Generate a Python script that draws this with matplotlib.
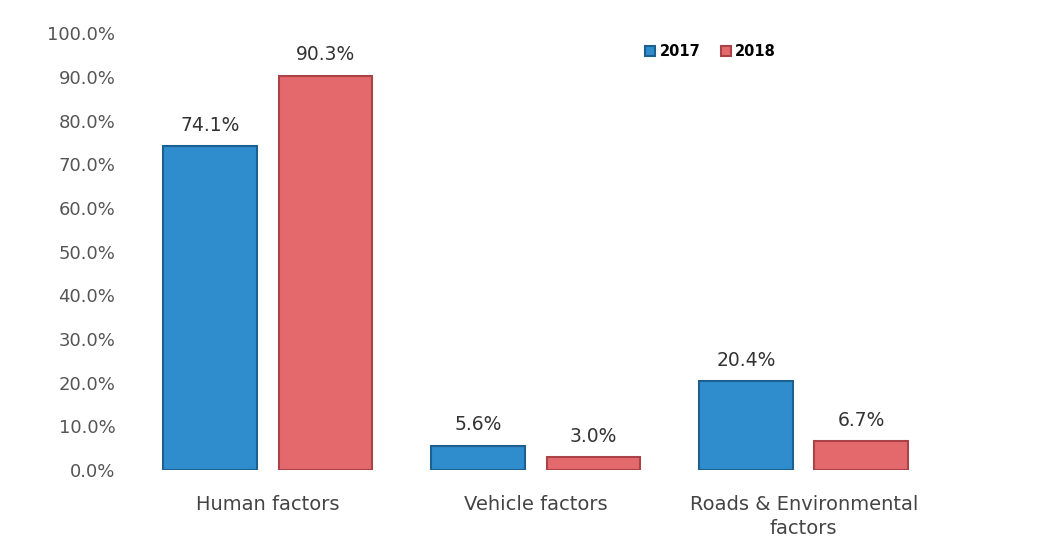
import matplotlib.pyplot as plt
import numpy as np

categories = ["Human factors", "Vehicle factors", "Roads & Environmental\nfactors"]
years = ["2017", "2018"]
vals_2017 = [74.1, 5.6, 20.4]
vals_2018 = [90.3, 3.0, 6.7]
yticks = [0, 10, 20, 30, 40, 50, 60, 70, 80, 90, 100]

BLUE, BLUE_EDGE = "#2f8dcd", "#1d5f8e"
RED, RED_EDGE = "#e4696d", "#a94347"

fig = plt.figure(figsize=(10.53, 5.53), dpi=100)
ax = fig.add_axes([0.1425, 0.150, 0.748, 0.790])

x = np.arange(len(categories))
w = 0.35
off = 0.215
b1 = ax.bar(x - off, vals_2017, w, color=BLUE, edgecolor=BLUE_EDGE, linewidth=1.5, label=years[0])
b2 = ax.bar(x + off, vals_2018, w, color=RED, edgecolor=RED_EDGE, linewidth=1.5, label=years[1])

for bars, vals in ((b1, vals_2017), (b2, vals_2018)):
    for rect, v in zip(bars, vals):
        ax.annotate(f"{v:.1f}%", (rect.get_x() + rect.get_width() / 2, v),
                    xytext=(0, 8), textcoords="offset points", ha="center", va="bottom",
                    fontsize=13.5, color="#333333")

ax.set_xlim(-0.44, 2.5)
ax.set_ylim(0, 100)
ax.set_yticks(yticks)
ax.set_yticklabels([f"{t:.1f}%" for t in yticks], fontsize=13, color="#555555")
ax.set_xticks(x)
ax.set_xticklabels(categories, fontsize=14, color="#444444", linespacing=1.35)
ax.tick_params(axis="both", length=0)
ax.tick_params(axis="y", pad=25)
ax.tick_params(axis="x", pad=18)
for s in ax.spines.values():
    s.set_visible(False)

fig.legend(handles=[b1, b2], labels=years, loc="center left", bbox_to_anchor=(0.600, 0.906),
           ncol=2, frameon=False, prop={"weight": "bold", "size": 10.5},
           handlelength=0.7, handleheight=0.7, handletextpad=0.3, columnspacing=1.4)

fig.savefig("out.png", dpi=100, facecolor="white")
